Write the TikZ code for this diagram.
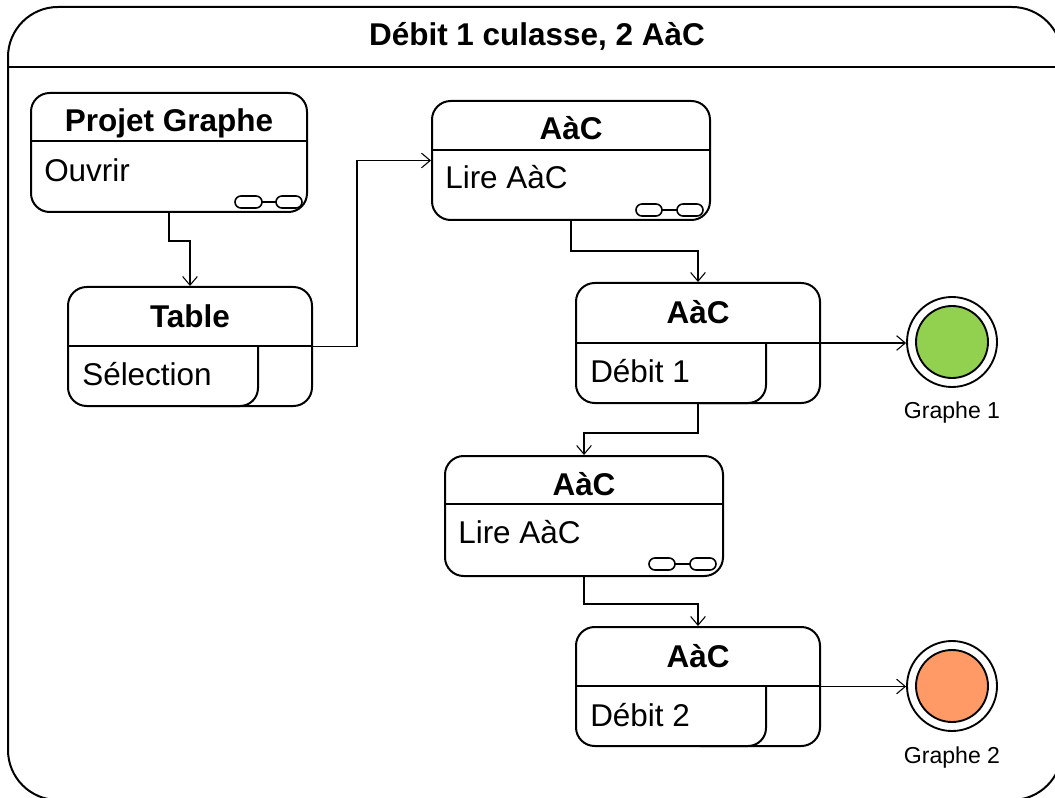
\documentclass[tikz,border=0pt]{standalone}
\usepackage{fontspec}
\setmainfont{Liberation Sans}
\usetikzlibrary{arrows.meta,calc}

\definecolor{graphegreen}{RGB}{146,208,80}
\definecolor{grapheorange}{RGB}{255,153,102}

\begin{document}
\begin{tikzpicture}[x=0.75pt,y=0.75pt,yscale=-1,xscale=1,
  statebox/.style={draw, line width=1.5pt, rounded corners=14pt, inner sep=0pt},
  partline/.style={line width=1.5pt},
  link/.style={line width=0.8pt, -{Straight Barb[length=6.5pt,width=11pt]}},
  chainlink/.style={line width=1.2pt},
  endring/.style={circle, draw, line width=1.4pt, fill=white, minimum size=67.5pt, inner sep=0pt},
  endcore/.style={circle, draw, line width=1.4pt, minimum size=54pt, inner sep=0pt},
  boxtitle/.style={anchor=base, inner sep=0.75pt, font=\fontsize{23.6}{28}\selectfont\bfseries},
  boxtext/.style={anchor=base west, inner sep=0.75pt, font=\fontsize{23.6}{28}\selectfont},
  endlabel/.style={anchor=base, inner sep=0.75pt, font=\fontsize{17.3}{20}\selectfont}]
\useasboundingbox (0,0) rectangle (1055,798);

%Frame
\draw [line width=1.5pt, rounded corners=37.5pt] (8,7) rectangle (1062,800);
\draw [line width=2.2pt] (8,67) -- (1062,67);
% Text Node
\node [anchor=base, inner sep=0.75pt, font=\fontsize{23.6}{28}\selectfont\bfseries] (titre) at (537,46) {Débit 1 culasse, 2 AàC};

%Rounded Rect
\node [statebox, minimum width=207pt, minimum height=89.25pt] (pg) at (169,152.5) {};
\draw [partline] (31,141) -- (307,141);
% Text Node
\node [boxtitle] (pgtitre) at (169,132) {Projet Graphe};
% Text Node
\node [boxtext] (pgtexte) at (43,182) {Ouvrir};
%Chain
\draw [chainlink, rounded corners=4.5pt] (235,196) rectangle (262,208);
\draw [chainlink, rounded corners=4.5pt] (276,196) rectangle (302,208);
\draw [chainlink] (262,202) -- (276,202);

%Rounded Rect
\node [statebox, minimum width=183pt, minimum height=89.25pt] (tab) at (190,346.5) {};
\draw [partline] (68,346) -- (312,346);
\draw [partline, rounded corners=13.5pt] (258,346) -- (258,406) -- (200,406);
% Text Node
\node [boxtitle] (tabtitre) at (190,327) {Table};
% Text Node
\node [boxtext] (tabtexte) at (81,385) {Sélection};

%Rounded Rect
\node [statebox, minimum width=208.5pt, minimum height=89.25pt] (aac1) at (571,160.5) {};
\draw [partline] (432,150) -- (710,150);
% Text Node
\node [boxtitle] (aac1titre) at (571,140) {AàC};
% Text Node
\node [boxtext] (aac1texte) at (444,189) {Lire AàC};
%Chain
\draw [chainlink, rounded corners=4.5pt] (636,204) rectangle (662,216);
\draw [chainlink, rounded corners=4.5pt] (677,204) rectangle (703,216);
\draw [chainlink] (662,210) -- (677,210);

%Rounded Rect
\node [statebox, minimum width=183pt, minimum height=90pt] (aac2) at (698,343) {};
\draw [partline] (576,343) -- (820,343);
\draw [partline, rounded corners=13.5pt] (766,343) -- (766,403) -- (700,403);
% Text Node
\node [boxtitle] (aac2titre) at (698,323) {AàC};
% Text Node
\node [boxtext] (aac2texte) at (589,382) {Débit 1};

%Rounded Rect
\node [statebox, minimum width=208.5pt, minimum height=90pt] (aac3) at (584,516) {};
\draw [partline] (445,504) -- (723,504);
% Text Node
\node [boxtitle] (aac3titre) at (584,495) {AàC};
% Text Node
\node [boxtext] (aac3texte) at (457,543) {Lire AàC};
%Chain
\draw [chainlink, rounded corners=4.5pt] (649,558) rectangle (675,570);
\draw [chainlink, rounded corners=4.5pt] (690,558) rectangle (716,570);
\draw [chainlink] (675,564) -- (690,564);

%Rounded Rect
\node [statebox, minimum width=183pt, minimum height=89.25pt] (aac4) at (698,686.5) {};
\draw [partline] (576,686) -- (820,686);
\draw [partline, rounded corners=13.5pt] (766,686) -- (766,746) -- (700,746);
% Text Node
\node [boxtitle] (aac4titre) at (698,667) {AàC};
% Text Node
\node [boxtext] (aac4texte) at (589,726) {Débit 2};

%Final states
\node [endring] (g1) at (952,342) {};
\node [endcore, fill=graphegreen] (g1coeur) at (g1) {};
\node [endlabel] (g1texte) at (952,418) {Graphe 1};
\node [endring] (g2) at (952,686) {};
\node [endcore, fill=grapheorange] (g2coeur) at (g2) {};
\node [endlabel] (g2texte) at (952,763) {Graphe 2};

%Connectors
\draw [link] (pg.south) -- ++(0,28) -| (tab.north);
\draw [link] (tab.east) -- ++(44,0) |- (aac1.west);
\draw [link] (aac1.south) -- ++(0,30) -| (aac2.north);
\draw [link] (aac2.east) -- (aac2.east -| g1.west);
\draw [link] (aac2.south) -- ++(0,29) -| (aac3.north);
\draw [link] (aac3.south) -- ++(0,27) -| (aac4.north);
\draw [link] (aac4.east) -- (aac4.east -| g2.west);

\end{tikzpicture}
\end{document}
